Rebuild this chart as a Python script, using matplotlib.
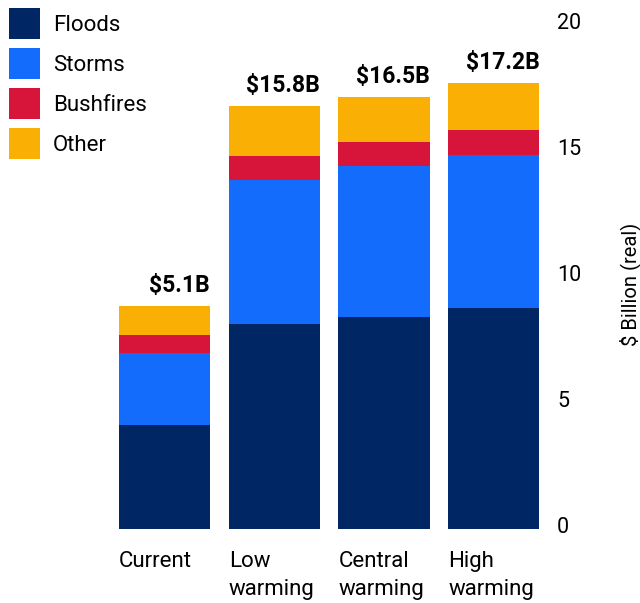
import matplotlib.pyplot as plt
import numpy as np
from matplotlib.patches import Patch
from matplotlib.transforms import ScaledTranslation

plt.rcParams["font.family"] = ["Roboto", "DejaVu Sans"]

escenarios = ["Current", "Low\nwarming", "Central\nwarming", "High\nwarming"]
totales = ["$5.1B", "$15.8B", "$16.5B", "$17.2B"]

floods = [4.13, 8.14, 8.42, 8.78]
storms = [2.86, 5.72, 6.00, 6.08]
bushfires = [0.72, 0.95, 0.95, 0.99]
other = [1.15, 1.99, 1.79, 1.87]

series = ["Floods", "Storms", "Bushfires", "Other"]
colores = ["#002664", "#146CFD", "#D7153A", "#FAAF05"]

fig = plt.figure(figsize=(6.4, 6.03), dpi=100)
ax = fig.add_axes([0.1713, 0.1227, 0.686, 0.8348])

x = np.arange(len(escenarios))
ancho = 0.83
base = np.zeros(len(escenarios))
for valores, color in zip([floods, storms, bushfires, other], colores):
    ax.bar(x, valores, ancho, bottom=base, color=color, linewidth=0)
    base = base + np.array(valores)

# Totales encima de cada barra, alineados a la derecha
for i, etiqueta in enumerate(totales):
    ax.annotate(
        etiqueta,
        (x[i] + ancho / 2, base[i]),
        xytext=(0, 10),
        textcoords="offset points",
        ha="right",
        va="baseline",
        fontsize=16.5,
        fontweight="bold",
    )

ax.set_xlim(-0.5, len(escenarios) - 0.5)
ax.set_ylim(0, 20)
ax.set_xticks(x - ancho / 2, escenarios, ha="left", fontsize=16, linespacing=1.4)
ax.set_yticks([0, 5, 10, 15, 20])
ax.yaxis.tick_right()
ax.yaxis.set_label_position("right")
ax.tick_params(axis="x", length=0, pad=16)
ax.tick_params(axis="y", length=0, pad=6, labelsize=15.5)
# etiquetas del eje y un poco mas arriba
for lbl in ax.get_yticklabels():
    lbl.set_transform(lbl.get_transform() + ScaledTranslation(0, 3 / 72, fig.dpi_scale_trans))
ax.set_ylabel("$ Billion (real)", fontsize=14.5)
ax.yaxis.set_label_coords(1.16, 0.485)
for s in ax.spines.values():
    s.set_visible(False)

handles = [Patch(color=c, linewidth=0) for c in colores]
fig.legend(
    handles,
    series,
    loc="upper left",
    bbox_to_anchor=(9 / 640, 1 - 8 / 603),
    frameon=False,
    fontsize=16,
    handlelength=1.395,
    handleheight=1.77,
    handletextpad=0.59,
    labelspacing=0.405,
    borderpad=0,
    borderaxespad=0,
)

fig.savefig("out.png", dpi=100)
